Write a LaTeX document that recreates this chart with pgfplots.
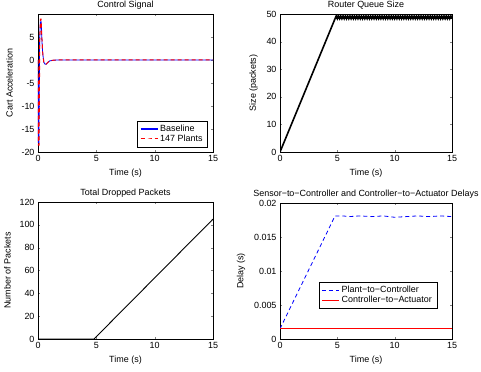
\documentclass[border=0pt]{standalone}
\usepackage{pgfplots}
\pgfplotsset{compat=1.18}
\usepackage{fontspec}
\setmainfont{Liberation Sans}
\definecolor{mblue}{rgb}{0,0,1}
\begin{document}
\begin{tikzpicture}
\useasboundingbox (0,0) rectangle (481bp,372bp);
\pgfplotsset{
  mlab/.style={
    scale only axis, width=175bp, height=138bp, anchor=south west,
    font=\fontsize{9}{10}\selectfont,
    /pgf/number format/assume math mode=true,
    tick align=inside, major tick length=2.2bp,
    xmin=0, xmax=15, xtick={0,5,10,15},
    axis line style={line width=0.7bp},
    xlabel={Time (s)},
    ylabel style={yshift=2bp},
    title style={yshift=-5bp},
    legend cell align=left,
  }
}
% Top left
\begin{axis}[mlab, at={(38bp,220bp)}, title={Control Signal}, ylabel={Cart Acceleration},
  ymin=-20, ymax=10, ytick={-20,-15,-10,-5,0,5},
  legend style={at={(0.97,0.035)}, anchor=south east, row sep=-2bp}]
\addlegendimage{draw=mblue, line width=1.1bp}
\addlegendentry{Baseline}
\addlegendimage{draw=red, line width=1bp, dash pattern=on 4bp off 3bp}
\addlegendentry{147 Plants}
\addplot[mblue, line width=0.8bp, forget plot] coordinates {(0,0) (0.03,-18) (0.08,-18) (0.14,4) (0.2,8.3) (0.27,8.3) (0.32,5) (0.4,1.5) (0.5,-0.5) (0.6,-0.9) (0.7,-0.9) (0.85,-0.5) (1.0,-0.2) (1.3,-0.05) (1.7,0) (15,0)};
\addplot[red, line width=1bp, dash pattern=on 4bp off 3bp, forget plot] coordinates {(0,0) (0.03,-18.5) (0.09,-18.5) (0.15,4.5) (0.21,8.9) (0.27,8.9) (0.33,5) (0.41,1.4) (0.5,-0.5) (0.6,-0.9) (0.7,-0.9) (0.85,-0.5) (1.0,-0.2) (1.3,-0.05) (1.7,0) (15,0)};
\end{axis}
% Top right
\begin{axis}[mlab, at={(280bp,220bp)}, width=172bp, title={Router Queue Size}, ylabel={Size (packets)},
  ymin=0, ymax=50, ytick={0,10,20,30,40,50}]
\addplot[black, line width=1.6bp] coordinates {(0,0) (4.8,48.3)
(4.9,49.3) (5.0,48.3) (5.1,49.3) (5.2,48.3) (5.3,49.3) (5.4,48.3) (5.5,49.3) (5.6,48.3) (5.7,49.3) (5.8,48.3) (5.9,49.3)
(6.0,48.3) (6.1,49.3) (6.2,48.3) (6.3,49.3) (6.4,48.3) (6.5,49.3) (6.6,48.3) (6.7,49.3) (6.8,48.3) (6.9,49.3)
(7.0,48.3) (7.1,49.3) (7.2,48.3) (7.3,49.3) (7.4,48.3) (7.5,49.3) (7.6,48.3) (7.7,49.3) (7.8,48.3) (7.9,49.3)
(8.0,48.3) (8.1,49.3) (8.2,48.3) (8.3,49.3) (8.4,48.3) (8.5,49.3) (8.6,48.3) (8.7,49.3) (8.8,48.3) (8.9,49.3)
(9.0,48.3) (9.1,49.3) (9.2,48.3) (9.3,49.3) (9.4,48.3) (9.5,49.3) (9.6,48.3) (9.7,49.3) (9.8,48.3) (9.9,49.3)
(10.0,48.3) (10.1,49.3) (10.2,48.3) (10.3,49.3) (10.4,48.3) (10.5,49.3) (10.6,48.3) (10.7,49.3) (10.8,48.3) (10.9,49.3)
(11.0,48.3) (11.1,49.3) (11.2,48.3) (11.3,49.3) (11.4,48.3) (11.5,49.3) (11.6,48.3) (11.7,49.3) (11.8,48.3) (11.9,49.3)
(12.0,48.3) (12.1,49.3) (12.2,48.3) (12.3,49.3) (12.4,48.3) (12.5,49.3) (12.6,48.3) (12.7,49.3) (12.8,48.3) (12.9,49.3)
(13.0,48.3) (13.1,49.3) (13.2,48.3) (13.3,49.3) (13.4,48.3) (13.5,49.3) (13.6,48.3) (13.7,49.3) (13.8,48.3) (13.9,49.3)
(14.0,48.3) (14.1,49.3) (14.2,48.3) (14.3,49.3) (14.4,48.3) (14.5,49.3) (14.6,48.3) (14.7,49.3) (14.8,48.3) (14.9,49.3) (15.0,48.3)};
\addplot[black, line width=3.6bp] coordinates {(4.85,48.8) (15,48.8)};
\end{axis}
% Bottom left
\begin{axis}[mlab, at={(38bp,33bp)}, height=137bp, title={Total Dropped Packets}, ylabel={Number of Packets},
  ymin=0, ymax=120, ytick={0,20,40,60,80,100,120}]
\addplot[black, line width=0.9bp] coordinates {(0,0) (4.8,0) (15,105)};
\end{axis}
% Bottom right
\begin{axis}[mlab, at={(280bp,33bp)}, width=172bp, height=136bp, title={Sensor−to−Controller and Controller−to−Actuator Delays},
  ylabel={Delay (s)}, ymin=0, ymax=0.02, ytick={0,0.005,0.01,0.015,0.02},
  scaled y ticks=false,
  yticklabel style={/pgf/number format/fixed, /pgf/number format/precision=3},
  legend style={at={(0.225,0.42)}, anchor=north west, row sep=-2bp}]
\addlegendimage{draw=mblue, line width=0.8bp, dash pattern=on 4bp off 3bp}
\addlegendentry{Plant−to−Controller}
\addlegendimage{draw=red, line width=0.8bp}
\addlegendentry{Controller−to−Actuator}
\addplot[mblue, line width=0.8bp, dash pattern=on 4bp off 3bp, forget plot] coordinates {(0,0.0015) (4.8,0.0181) (5.5,0.0181) (6,0.0180) (7,0.0181) (8,0.0180) (9,0.0181) (10,0.0179) (11,0.0180) (12,0.0181) (13,0.0180) (14,0.0181) (15,0.0180)};
\addplot[red, line width=0.8bp, forget plot] coordinates {(0,0.0015) (15,0.0015)};
\end{axis}
\end{tikzpicture}
\end{document}
